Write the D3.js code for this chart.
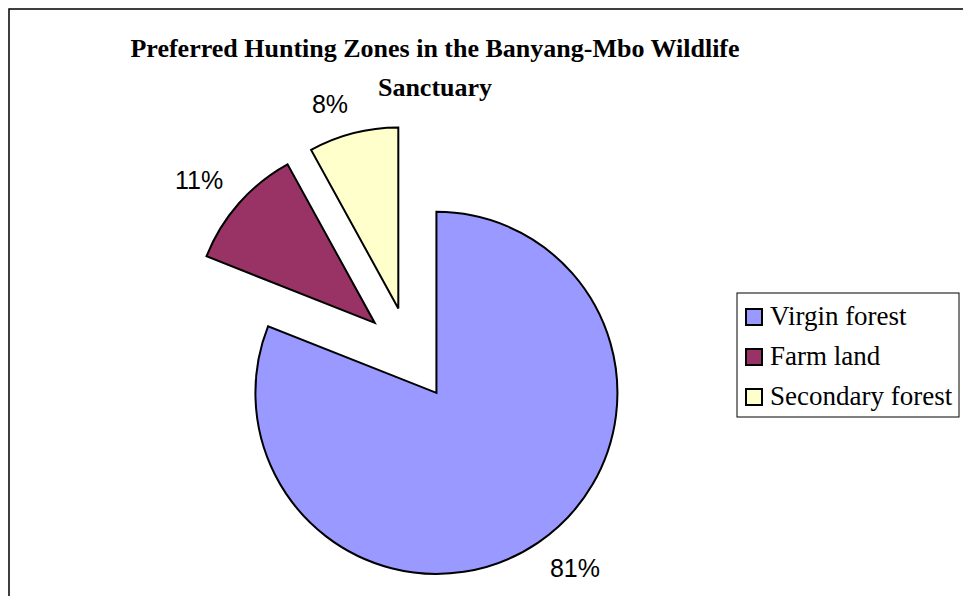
<!DOCTYPE html>
<html>
<head>
<meta charset="utf-8">
<script src="https://cdn.jsdelivr.net/npm/d3@7"></script>
<style>
  body { margin: 0; background: #fff; }
</style>
</head>
<body>
<div id="wrapper"></div>
<script>
// data
const zones = ["Virgin forest", "Farm land", "Secondary forest"];
const shares = [81, 11, 8];
const zoneColors = ["#9999ff", "#993366", "#ffffcc"];

function drawPie() {
    const dimensions = {
        width: 963,
        height: 596,
        cx: 410,
        cy: 354,
        radius: 181,
        explode: 47
    };

    const wrapper = d3.select("#wrapper")
        .append("svg")
        .attr("width", dimensions.width)
        .attr("height", dimensions.height);

    // chart frame (runs off the right and bottom edges)
    wrapper.append("rect")
        .attr("x", 9)
        .attr("y", 9)
        .attr("width", 1000)
        .attr("height", 1000)
        .attr("fill", "white")
        .attr("stroke", "black")
        .attr("stroke-width", 1.5);

    // title
    const title = wrapper.append("text")
        .attr("text-anchor", "middle")
        .style("font-family", "'Liberation Serif', 'Times New Roman', serif")
        .style("font-weight", "bold")
        .style("font-size", "26px");
    title.append("tspan").attr("x", 435).attr("y", 57)
        .text("Preferred Hunting Zones in the Banyang-Mbo Wildlife");
    title.append("tspan").attr("x", 435).attr("y", 96)
        .text("Sanctuary");

    // pie
    const pie = d3.pie().sort(null).value(d => d);
    const arcs = pie(shares);

    const arc = d3.arc()
        .innerRadius(0)
        .outerRadius(dimensions.radius);

    const colorScale = d3.scaleOrdinal()
        .domain(zones)
        .range(zoneColors);

    const mid = d => (d.startAngle + d.endAngle) / 2;
    const offset = (d, k) => [Math.sin(mid(d)) * k, -Math.cos(mid(d)) * k];

    const bounds = wrapper.append("g")
        .attr("transform", `translate(${dimensions.cx},${dimensions.cy})`);

    const slices = bounds.selectAll("g.slice")
        .data(arcs)
        .join("g")
        .attr("class", "slice")
        .attr("transform", d => {
            const [dx, dy] = offset(d, dimensions.explode);
            return `translate(${dx},${dy})`;
        });

    slices.append("path")
        .attr("d", arc)
        .attr("fill", (d, i) => colorScale(zones[i]))
        .attr("stroke", "black")
        .attr("stroke-width", 2)
        .attr("stroke-linejoin", "miter");

    // percentage labels, corner facing the slice sits just outside the arc
    const labelRadius = dimensions.radius + 21;
    slices.append("text")
        .attr("x", d => offset(d, labelRadius)[0])
        .attr("y", d => {
            const [, y] = offset(d, labelRadius);
            return y < 0 ? y : y + 17;
        })
        .attr("text-anchor", d => Math.sin(mid(d)) >= 0 ? "start" : "end")
        .style("font-family", "'Liberation Sans', Arial, sans-serif")
        .style("font-size", "25px")
        .attr("fill", "black")
        .text(d => `${d.data}%`);

    // legend
    const legend = wrapper.append("g");
    legend.append("rect")
        .attr("x", 737)
        .attr("y", 293)
        .attr("width", 222)
        .attr("height", 124)
        .attr("fill", "white")
        .attr("stroke", "black")
        .attr("stroke-width", 1);

    const items = legend.selectAll("g.item")
        .data(zones)
        .join("g")
        .attr("class", "item")
        .attr("transform", (d, i) => `translate(746, ${309 + i * 40})`);

    items.append("rect")
        .attr("width", 16)
        .attr("height", 16)
        .attr("fill", d => colorScale(d))
        .attr("stroke", "black")
        .attr("stroke-width", 2);

    items.append("text")
        .attr("x", 24)
        .attr("y", 16)
        .style("font-family", "'Liberation Serif', 'Times New Roman', serif")
        .style("font-size", "27px")
        .text(d => d);
}

drawPie();
</script>
</body>
</html>
